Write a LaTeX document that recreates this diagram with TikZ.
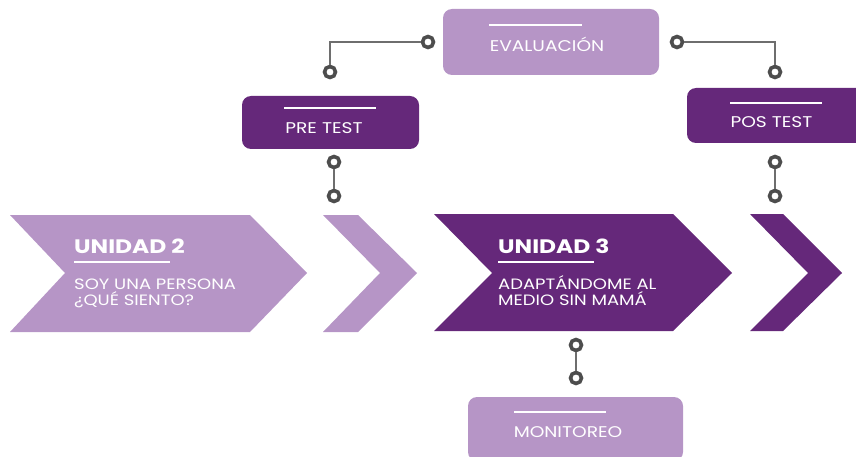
\documentclass[tikz,border=0pt]{standalone}
\usepackage{fontspec}
\setmainfont{Poppins}[FakeStretch=1.2]
\usetikzlibrary{positioning}
\definecolor{lila}{HTML}{B695C6}
\definecolor{morado}{HTML}{65287A}
\definecolor{anillo}{HTML}{4D4D4D}
\definecolor{gris}{HTML}{6E6E6E}
\tikzset{
	caja/.style={rounded corners=9pt,inner sep=0pt},
	aro/.style={circle,draw=anillo,line width=3.6pt,fill=white,minimum size=11pt,inner sep=0pt},
	enlace/.style={draw=gris,line width=1.2pt},
	barra/.style={draw=white,line width=2pt},
	rotulo/.style={text=white,font=\fontsize{15.5}{18}\selectfont,anchor=base},
	titulo/.style={text=white,font=\fontsize{19.5}{24}\selectfont\bfseries,anchor=base west,inner sep=0pt},
	texto/.style={text=white,font=\fontsize{15}{16.5}\selectfont,anchor=base west,align=left,inner sep=0pt}
}

\begin{document}
\begin{tikzpicture}[x=1pt,y=-1pt]
		\useasboundingbox (0,0) rectangle (856,457);
		
		% flechas
		\fill[lila] (10,215) -- (250,215) -- (307,273) -- (250,332) -- (10,332) -- (65,273) -- cycle;
		\fill[lila] (323,215) -- (358,215) -- (417,273) -- (358,332) -- (323,332) -- (380,273) -- cycle;
		\fill[morado] (434,214) -- (673,214) -- (732,273) -- (673,331) -- (434,331) -- (492,273) -- cycle;
		\fill[morado] (750,214) -- (783,214) -- (842,273) -- (783,331) -- (750,331) -- (808,273) -- cycle;
		
		\node(U2) [titulo] at (74,253) {UNIDAD 2};
		\draw[barra] (74,262) -- (170,262);
		\node(U2t) [texto] at (74,305.5) {SOY UNA PERSONA\\¿QUÉ SIENTO?};
		
		\node(U3) [titulo] at (498,253) {UNIDAD 3};
		\draw[barra] (498,262) -- (594,262);
		\node(U3t) [texto] at (498,305.5) {ADAPTÁNDOME AL\\MEDIO SIN MAMÁ};
		
		% cajas
		\node(Eval) [caja,fill=lila,minimum width=216pt,minimum height=66pt] at (551,42) {};
		\node(Pre)  [caja,fill=morado,minimum width=177pt,minimum height=53pt] at (330.5,122.5) {};
		\node(Pos)  [caja,fill=morado,minimum width=185pt,minimum height=55pt] at (779.5,115.5) {};
		\node(Mon)  [caja,fill=lila,minimum width=215pt,minimum height=64pt] at (575.5,429) {};
		
		\draw[barra] (489,25) -- (582,25);
		\draw[barra] (284,108) -- (376,108);
		\draw[barra] (730,103) -- (822,103);
		\draw[barra] (514,412) -- (606,412);
		
		\node(EvalT) [rotulo] at (547,52)  {EVALUACIÓN};
		\node(PreT)  [rotulo] at (324,134) {PRE TEST};
		\node(PosT)  [rotulo] at (771.5,128) {POS TEST};
		\node(MonT)  [rotulo] at (568,437) {MONITOREO};
		
		% aros
		\node(E1) [aro] at (428,42) {};
		\node(E2) [aro] at (330,72) {};
		\node(E3) [aro] at (677,42) {};
		\node(E4) [aro] at (775,72) {};
		\node(P1) [aro] at (334,162) {};
		\node(P2) [aro] at (334,196) {};
		\node(Q1) [aro] at (775,162) {};
		\node(Q2) [aro] at (775,196) {};
		\node(M1) [aro] at (576,345) {};
		\node(M2) [aro] at (576,378) {};
		
		\draw[enlace] (E1) -| (E2);
		\draw[enlace] (E3) -| (E4);
		\draw[enlace] (P1) -- (P2);
		\draw[enlace] (Q1) -- (Q2);
		\draw[enlace] (M1) -- (M2);
	\end{tikzpicture}
\end{document}
